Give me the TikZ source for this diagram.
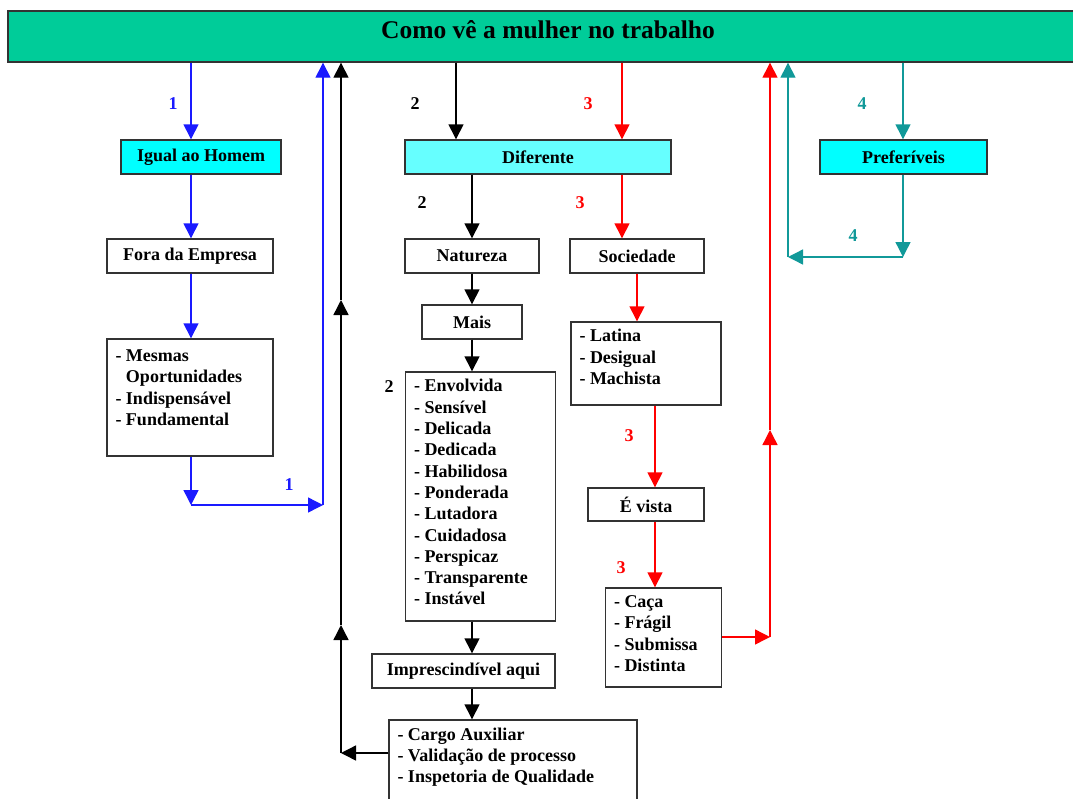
\documentclass[tikz,border=0pt]{standalone}
\usepackage{fontspec}
\setmainfont{Liberation Serif}
\usetikzlibrary{arrows.meta,calc}

\definecolor{titlegreen}{HTML}{00CC99}
\definecolor{cyanA}{HTML}{00FFFF}
\definecolor{cyanB}{HTML}{66FFFF}
\definecolor{lineblue}{HTML}{1A1AFF}
\definecolor{linered}{HTML}{FF0000}
\definecolor{lineteal}{HTML}{119999}
\definecolor{boxline}{HTML}{333333}

\newcommand{\bodyfont}{\fontsize{18}{21.3}\selectfont\bfseries}

\tikzset{
  x=1pt, y=-1pt,
  box/.style={draw=boxline, line width=1.4pt, fill=white, inner sep=0pt,
              font=\bodyfont, align=center},
  listtext/.style={anchor=north west, inner sep=0pt, font=\bodyfont, align=left},
  tip/.style={-{Triangle[length=15pt,width=15pt]}},
  conn/.style={line width=1.4pt},
  cblue/.style={conn, draw=lineblue, fill=lineblue},
  cblack/.style={conn, draw=black, fill=black},
  cred/.style={conn, draw=linered, fill=linered},
  cteal/.style={conn, draw=lineteal, fill=lineteal},
  num/.style={font=\bodyfont, inner sep=0pt},
}

\begin{document}
\begin{tikzpicture}
\useasboundingbox (0,0) rectangle (1073,798);

% title bar
\node[box, fill=titlegreen, minimum width=1080, minimum height=51] (title) at (548,36.5) {};
\node[anchor=base, inner sep=0pt, font=\fontsize{25.5}{30}\selectfont\bfseries] (titletext) at (548,38) {Como vê a mulher no trabalho};

% first level
\node[box, fill=cyanA, minimum width=160, minimum height=34] (igual) at (201,157) {Igual ao Homem};
\node[box, fill=cyanB, minimum width=266, minimum height=34] (dif) at (538,157) {Diferente};
\node[box, fill=cyanA, minimum width=167, minimum height=34] (pref) at (903.5,157) {Preferíveis};

% left branch
\node[box, minimum width=166, minimum height=34] (fora) at (190,256) {Fora da Empresa};
\node[box, minimum width=166, minimum height=117] (mesmas) at (190,397.5) {};
\node[listtext] (mesmastext) at ($(mesmas.north west)+(9,8)$)
  {\begin{tabular}{@{}l@{ }l@{}}- & Mesmas\\ & Oportunidades\\- & Indispensável\\- & Fundamental\end{tabular}};

% middle branch
\node[box, minimum width=134, minimum height=34] (natureza) at (472,256) {Natureza};
\node[box, minimum width=100, minimum height=34] (mais) at (472,322) {Mais};
\node[box, minimum width=150, minimum height=249] (qualid) at (480.5,496.5) {};
\node[listtext] (qualidtext) at ($(qualid.north west)+(9,8)$)
  {- Envolvida\\- Sensível\\- Delicada\\- Dedicada\\- Habilidosa\\- Ponderada\\- Lutadora\\- Cuidadosa\\- Perspicaz\\- Transparente\\- Instável};
\node[box, minimum width=183, minimum height=34] (impresc) at (463.5,671) {Imprescindível aqui};
\node[box, minimum width=248, minimum height=90] (cargo) at (513,765) {};
\node[listtext] (cargotext) at ($(cargo.north west)+(9,8)$)
  {- Cargo Auxiliar\\- Validação de processo\\- Inspetoria de Qualidade};

% right branch
\node[box, minimum width=134, minimum height=34] (sociedade) at (637,256) {Sociedade};
\node[box, minimum width=150, minimum height=83] (latina) at (646,363.5) {};
\node[listtext] (latinatext) at ($(latina.north west)+(9,8)$)
  {- Latina\\- Desigual\\- Machista};
\node[box, minimum width=116, minimum height=33] (vista) at (646,504.5) {É vista};
\node[box, minimum width=116, minimum height=99] (caca) at (663.5,637.5) {};
\node[listtext] (cacatext) at ($(caca.north west)+(9,8)$)
  {- Caça\\- Frágil\\- Submissa\\- Distinta};

% column positions of the connectors
\coordinate (xb) at (191,0);
\coordinate (xbup) at (323,0);
\coordinate (xk) at (456,0);
\coordinate (xk2) at (472,0);
\coordinate (xkup) at (341,0);
\coordinate (xr) at (622,0);
\coordinate (xr2) at (637,0);
\coordinate (xr3) at (655,0);
\coordinate (xrup) at (770,0);
\coordinate (xt) at (903,0);
\coordinate (xtup) at (788,0);

% blue path: igual ao homem
\coordinate (b1) at (191,505);
\coordinate (b2) at (323,505);
\draw[cblue, tip] (title.south -| xb) -- (igual.north -| xb);
\draw[cblue, tip] (igual.south -| xb) -- (fora.north -| xb);
\draw[cblue, tip] (fora.south -| xb) -- (mesmas.north -| xb);
\draw[cblue, tip] (mesmas.south -| xb) -- (b1);
\draw[cblue, tip] (b1) -- (b2);
\draw[cblue, tip] (b2) -- (title.south -| xbup);
\node[num, text=lineblue] (n1a) at (173,104) {1};
\node[num, text=lineblue] (n1b) at (289,485) {1};

% black path: natureza
\coordinate (k1) at (341,753);
\coordinate (k2) at (341,625);
\coordinate (k3) at (341,300);
\draw[cblack, tip] (title.south -| xk) -- (dif.north -| xk);
\draw[cblack, tip] (dif.south -| xk2) -- (natureza.north -| xk2);
\draw[cblack, tip] (natureza.south -| xk2) -- (mais.north -| xk2);
\draw[cblack, tip] (mais.south -| xk2) -- (qualid.north -| xk2);
\draw[cblack, tip] (qualid.south -| xk2) -- (impresc.north -| xk2);
\draw[cblack, tip] (impresc.south -| xk2) -- (cargo.north -| xk2);
\draw[cblack, tip] (cargo.west |- k1) -- (k1);
\draw[cblack, tip] (k1) -- (k2);
\draw[cblack, tip] (k2) -- (k3);
\draw[cblack, tip] (k3) -- (title.south -| xkup);
\node[num] (n2a) at (415,104) {2};
\node[num] (n2b) at (422,203) {2};
\node[num] (n2c) at (389,387) {2};

% red path: sociedade
\coordinate (r1) at (770,637);
\coordinate (r2) at (770,430);
\draw[cred, tip] (title.south -| xr) -- (dif.north -| xr);
\draw[cred, tip] (dif.south -| xr) -- (sociedade.north -| xr);
\draw[cred, tip] (sociedade.south -| xr2) -- (latina.north -| xr2);
\draw[cred, tip] (latina.south -| xr3) -- (vista.north -| xr3);
\draw[cred, tip] (vista.south -| xr3) -- (caca.north -| xr3);
\draw[cred, tip] (caca.east |- r1) -- (r1);
\draw[cred, tip] (r1) -- (r2);
\draw[cred, tip] (r2) -- (title.south -| xrup);
\node[num, text=linered] (n3a) at (588,104) {3};
\node[num, text=linered] (n3b) at (580,203) {3};
\node[num, text=linered] (n3c) at (629,436) {3};
\node[num, text=linered] (n3d) at (621,568) {3};

% teal path: preferiveis
\coordinate (t1) at (903,257);
\coordinate (t2) at (788,257);
\draw[cteal, tip] (title.south -| xt) -- (pref.north -| xt);
\draw[cteal, tip] (pref.south -| xt) -- (t1);
\draw[cteal, tip] (t1) -- (t2);
\draw[cteal, tip] (t2) -- (title.south -| xtup);
\node[num, text=lineteal] (n4a) at (862,104) {4};
\node[num, text=lineteal] (n4b) at (853,236) {4};
\end{tikzpicture}
\end{document}
